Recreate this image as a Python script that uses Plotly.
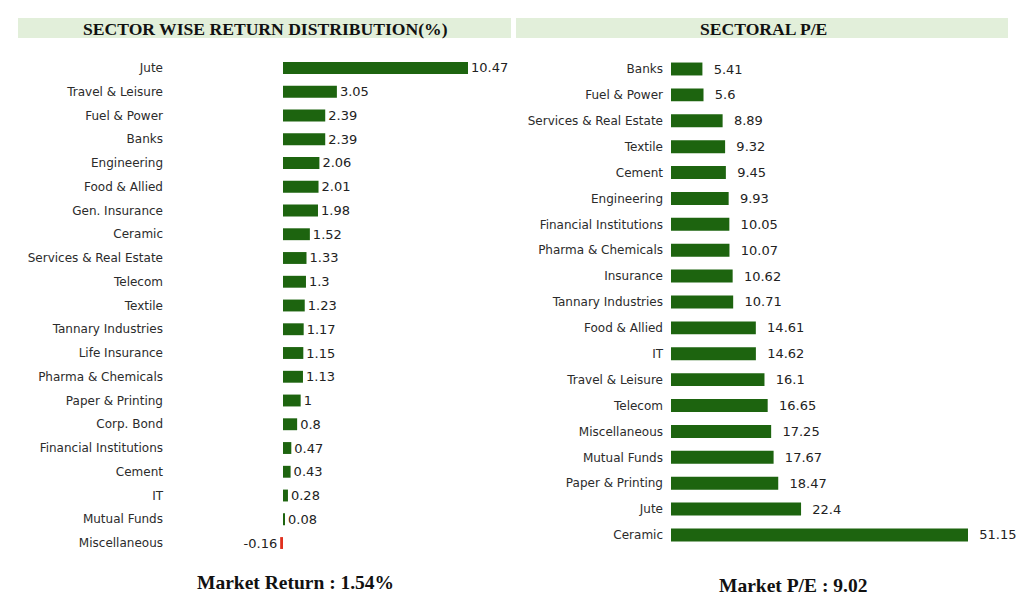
import plotly.graph_objects as go

W, H = 1024, 612
OFF = 8  # page body margin offset

ret_sectors = ["Jute", "Travel & Leisure", "Fuel & Power", "Banks", "Engineering", "Food & Allied",
               "Gen. Insurance", "Ceramic", "Services & Real Estate", "Telecom", "Textile",
               "Tannary Industries", "Life Insurance", "Pharma & Chemicals", "Paper & Printing",
               "Corp. Bond", "Financial Institutions", "Cement", "IT", "Mutual Funds", "Miscellaneous"]
ret_values = [10.47, 3.05, 2.39, 2.39, 2.06, 2.01, 1.98, 1.52, 1.33, 1.3, 1.23, 1.17, 1.15, 1.13,
              1, 0.8, 0.47, 0.43, 0.28, 0.08, -0.16]

pe_sectors = ["Banks", "Fuel & Power", "Services & Real Estate", "Textile", "Cement", "Engineering",
              "Financial Institutions", "Pharma & Chemicals", "Insurance", "Tannary Industries",
              "Food & Allied", "IT", "Travel & Leisure", "Telecom", "Miscellaneous", "Mutual Funds",
              "Paper & Printing", "Jute", "Ceramic"]
pe_values = [5.41, 5.6, 8.89, 9.32, 9.45, 9.93, 10.05, 10.07, 10.62, 10.71, 14.61, 14.62, 16.1,
             16.65, 17.25, 17.67, 18.47, 22.4, 51.15]

left_title = "SECTOR WISE RETURN DISTRIBUTION(%)"
right_title = "SECTORAL P/E"
market_return = "Market Return : 1.54%"
market_pe = "Market P/E : 9.02"

GREEN = "#1d640f"
RED = "#e0301e"
LABEL_FONT = dict(family="DejaVu Sans", size=12, color="#2b2b2b")
VALUE_FONT = dict(family="DejaVu Sans", size=13, color="#222222")
SERIF = "Liberation Serif"

fig = go.Figure()

fig.add_trace(go.Bar(
    x=ret_values, y=ret_sectors, orientation="h",
    marker=dict(color=[GREEN if v >= 0 else RED for v in ret_values], line=dict(width=0)),
    width=0.5,
    text=[f"{v:g}" for v in ret_values], textposition="outside", constraintext="none",
    textfont=VALUE_FONT, cliponaxis=False,
    xaxis="x", yaxis="y", showlegend=False, hoverinfo="x+y",
))
fig.add_trace(go.Bar(
    x=pe_values, y=pe_sectors, orientation="h",
    marker=dict(color=GREEN, line=dict(width=0)),
    width=0.5,
    text=[f"{v:g}" for v in pe_values], texttemplate="\u00a0\u00a0%{text}",
    textposition="outside", constraintext="none",
    textfont=VALUE_FONT, cliponaxis=False,
    xaxis="x2", yaxis="y2", showlegend=False, hoverinfo="x+y",
))

def px_x(p):
    return (p - OFF) / W

def px_y(p):
    return 1 - (p - OFF) / H

axis_common = dict(showgrid=False, zeroline=False, showline=False, ticks="")

fig.update_layout(
    width=W, height=H,
    margin=dict(l=0, r=0, t=0, b=0),
    paper_bgcolor="white", plot_bgcolor="white",
    xaxis=dict(domain=[px_x(164), px_x(468)], range=[-6.735, 10.47], showticklabels=False,
               anchor="y", **axis_common),
    yaxis=dict(domain=[px_y(554.9), px_y(56.1)], categoryorder="array", categoryarray=ret_sectors,
               autorange="reversed", tickfont=LABEL_FONT, anchor="x", **axis_common),
    xaxis2=dict(domain=[px_x(664), px_x(968)], range=[-1.205, 51.15], showticklabels=False,
                anchor="y2", **axis_common),
    yaxis2=dict(domain=[px_y(547.9), px_y(56.06)], categoryorder="array", categoryarray=pe_sectors,
                autorange="reversed", tickfont=LABEL_FONT, anchor="x2", **axis_common),
)

# title bars
for x0, x1 in [(18, 511), (516, 1008)]:
    fig.add_shape(type="rect", xref="paper", yref="paper",
                  x0=px_x(x0), x1=px_x(x1), y0=px_y(38), y1=px_y(18),
                  fillcolor="#e2efda", line=dict(width=0), layer="below")

fig.add_annotation(text=f"<b>{left_title}</b>", xref="paper", yref="paper",
                   x=px_x(265), y=px_y(29), showarrow=False, xanchor="center", yanchor="middle",
                   font=dict(family=SERIF, size=17.6, color="#111111"))
fig.add_annotation(text=f"<b>{right_title}</b>", xref="paper", yref="paper",
                   x=px_x(763), y=px_y(29), showarrow=False, xanchor="center", yanchor="middle",
                   font=dict(family=SERIF, size=17.6, color="#111111"))
fig.add_annotation(text=f"<b>{market_return}</b>", xref="paper", yref="paper",
                   x=px_x(295), y=px_y(582), showarrow=False, xanchor="center", yanchor="middle",
                   font=dict(family=SERIF, size=19.5, color="#111111"))
fig.add_annotation(text=f"<b>{market_pe}</b>", xref="paper", yref="paper",
                   x=px_x(793), y=px_y(585), showarrow=False, xanchor="center", yanchor="middle",
                   font=dict(family=SERIF, size=19.5, color="#111111"))

fig.write_html("out.html")
